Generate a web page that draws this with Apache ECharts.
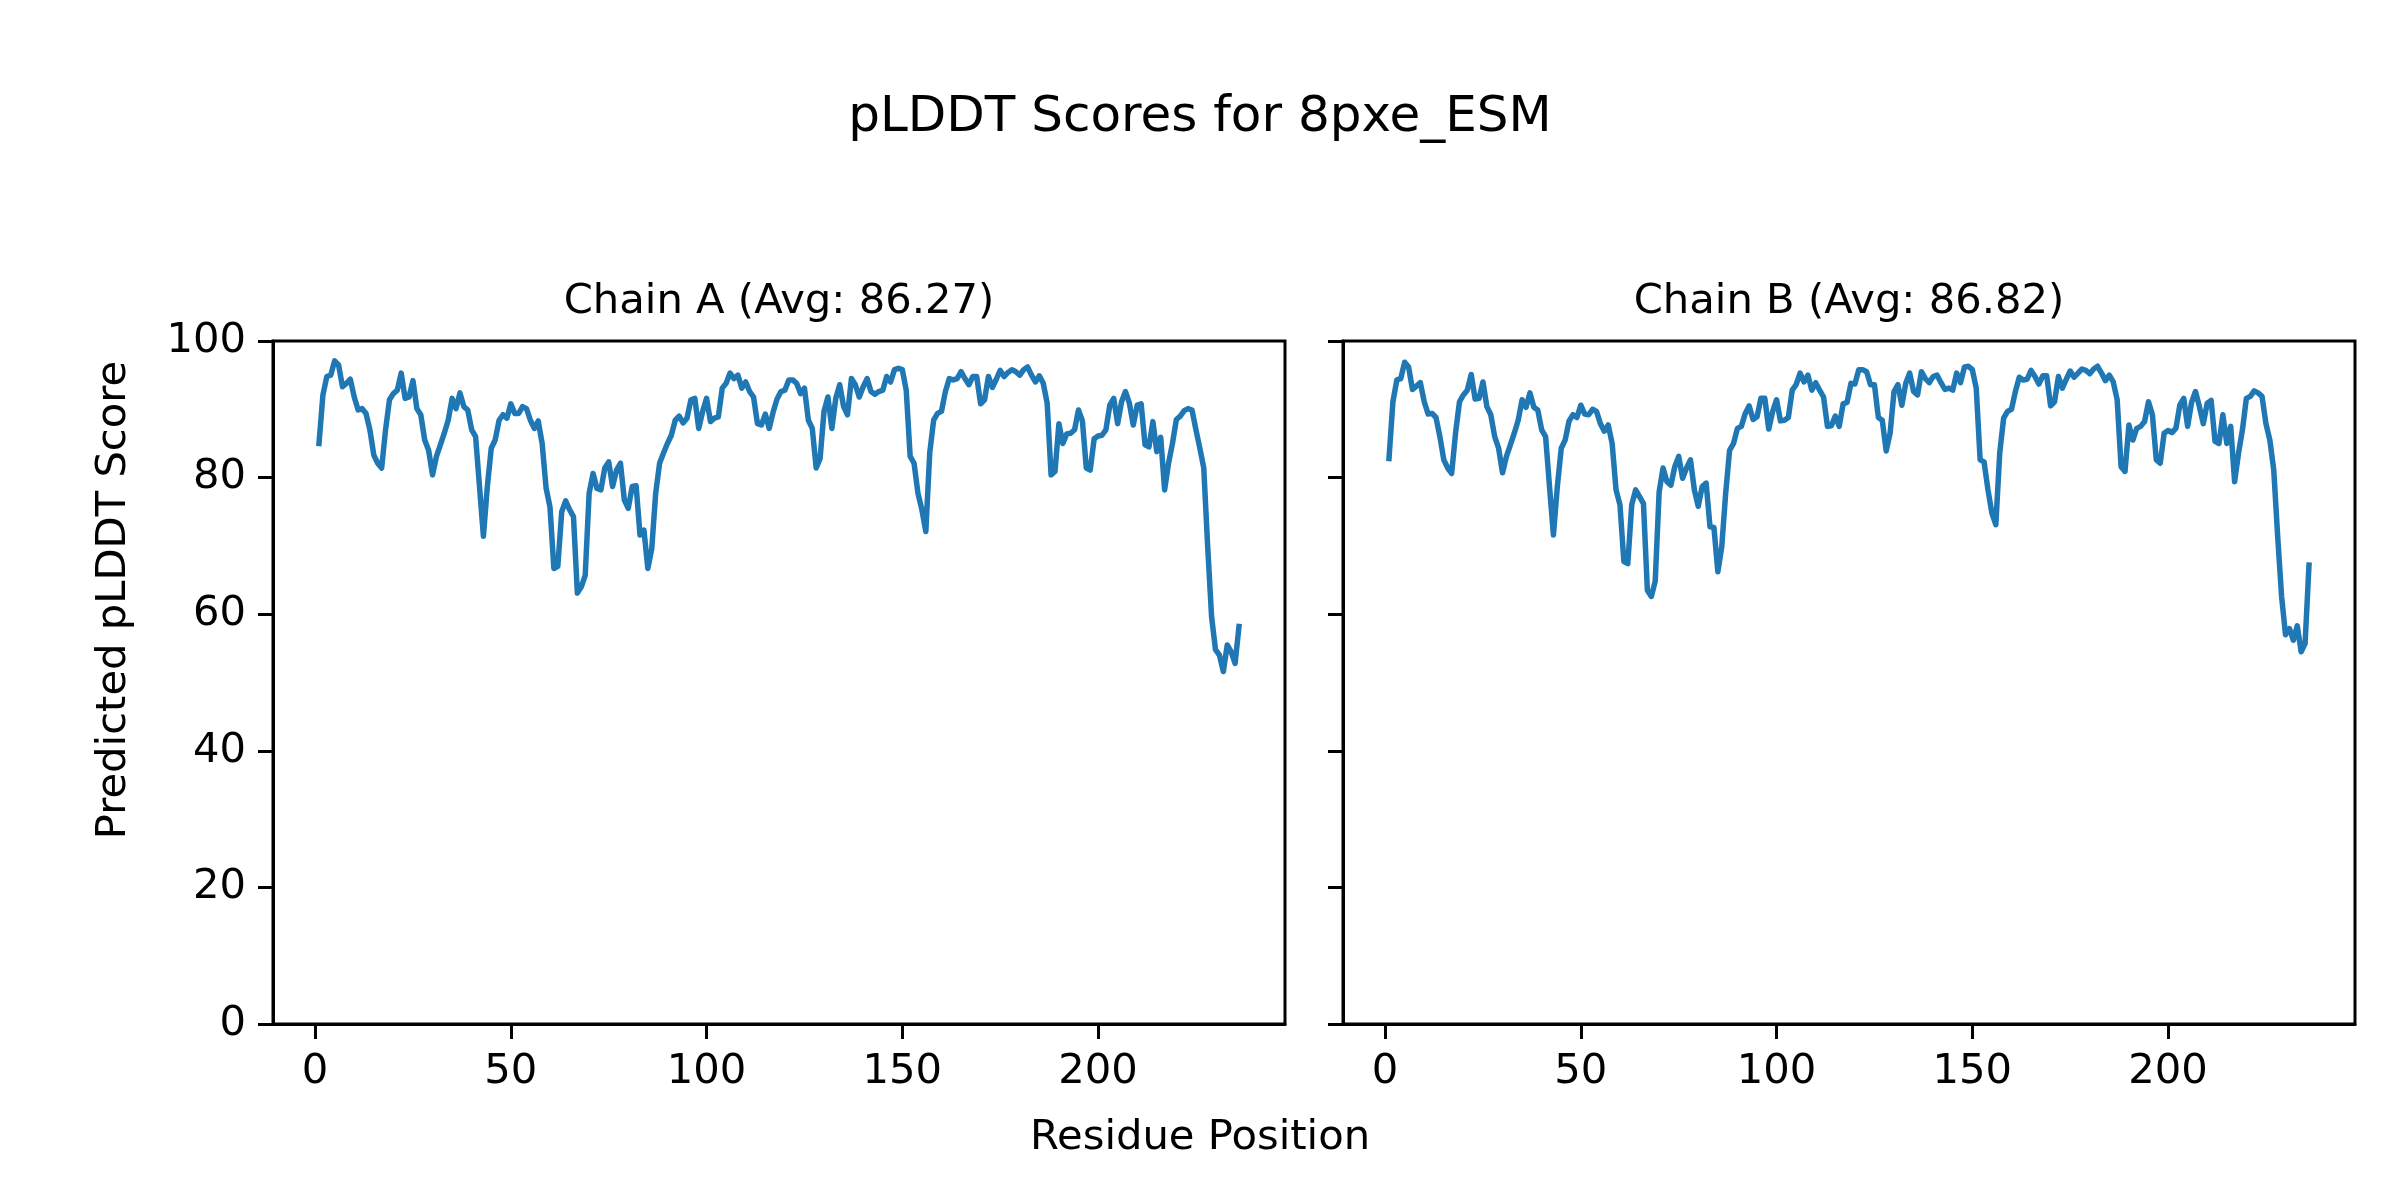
<!DOCTYPE html>
<html>
<head>
<meta charset="utf-8">
<script src="https://cdn.jsdelivr.net/npm/echarts@6/dist/echarts.min.js"></script>
<style>
html,body{margin:0;padding:0;background:#fff;}
#chart{width:2400px;height:1200px;}
</style>
</head>
<body>
<div id="chart"></div>
<script>
const mainTitle = 'pLDDT Scores for 8pxe_ESM';
const chainTitles = ['Chain A (Avg: 86.27)', 'Chain B (Avg: 86.82)'];
const xLabel = 'Residue Position';
const yLabel = 'Predicted pLDDT Score';
const xTicks = [0, 50, 100, 150, 200];
const yTicks = [0, 20, 40, 60, 80, 100];

const chainA = [
85.0, 92.1, 94.8, 95.0, 97.1, 96.5, 93.3, 93.8, 94.4, 91.8,
89.9, 90.1, 89.4, 87.0, 83.3, 82.1, 81.4, 87.0, 91.4, 92.3,
92.8, 95.3, 91.6, 91.8, 94.2, 90.1, 89.2, 85.5, 84.0, 80.4,
83.1, 84.8, 86.5, 88.4, 91.6, 90.1, 92.4, 90.4, 89.9, 87.0,
86.0, 78.7, 71.4, 78.7, 84.3, 85.5, 88.4, 89.2, 88.7, 90.8,
89.4, 89.4, 90.4, 90.1, 88.4, 87.2, 88.3, 85.0, 78.5, 75.7,
66.7, 67.0, 75.0, 76.6, 75.3, 74.3, 63.1, 64.0, 65.7, 77.7,
80.6, 78.4, 78.2, 81.4, 82.3, 78.7, 81.1, 82.1, 76.7, 75.5,
78.7, 78.8, 71.6, 72.3, 66.7, 69.6, 77.7, 82.1, 83.6, 85.0,
86.2, 88.4, 89.0, 88.0, 88.7, 91.4, 91.6, 87.2, 89.7, 91.6,
88.2, 88.7, 88.9, 93.1, 93.8, 95.3, 94.5, 95.0, 93.1, 94.0,
92.6, 91.8, 87.9, 87.7, 89.3, 87.2, 89.6, 91.5, 92.6, 92.8,
94.3, 94.3, 93.8, 92.3, 93.1, 88.4, 87.2, 81.4, 82.8, 89.7,
91.8, 87.2, 91.6, 93.6, 90.4, 89.2, 94.5, 93.6, 91.8, 93.3,
94.5, 92.6, 92.2, 92.6, 92.8, 94.8, 94.0, 95.8, 96.0, 95.8,
92.8, 83.1, 82.1, 77.7, 75.3, 72.1, 83.6, 88.4, 89.4, 89.7,
92.6, 94.5, 94.3, 94.5, 95.5, 94.5, 93.6, 94.8, 94.8, 90.8,
91.4, 94.8, 93.2, 94.4, 95.7, 94.8, 95.4, 95.8, 95.5, 95.0,
95.8, 96.2, 95.0, 94.0, 94.9, 93.8, 90.9, 80.4, 80.9, 87.9,
85.0, 86.4, 86.5, 87.0, 89.9, 88.3, 81.4, 81.1, 85.7, 86.1,
86.2, 87.0, 90.6, 91.6, 87.9, 91.1, 92.6, 90.9, 87.7, 90.6,
90.8, 84.8, 84.5, 88.2, 83.8, 85.9, 78.2, 82.1, 85.0, 88.5,
89.0, 89.8, 90.1, 89.9, 87.0, 84.3, 81.4, 69.9, 59.6, 54.8,
54.0, 51.6, 55.5, 54.5, 52.8, 58.2
];

const chainB = [
82.8, 91.1, 94.3, 94.5, 96.9, 96.2, 92.9, 93.4, 93.9, 91.1,
89.3, 89.4, 88.8, 86.0, 82.6, 81.4, 80.6, 86.5, 91.1, 92.1,
92.8, 95.1, 91.5, 91.6, 94.0, 90.4, 89.2, 86.0, 84.3, 80.7,
83.1, 84.8, 86.5, 88.4, 91.4, 90.3, 92.4, 90.3, 89.9, 87.0,
86.0, 78.7, 71.6, 78.7, 84.3, 85.5, 88.3, 89.2, 88.8, 90.6,
89.3, 89.2, 90.0, 89.7, 87.9, 86.8, 87.7, 85.0, 78.2, 76.0,
67.7, 67.4, 76.0, 78.2, 77.2, 76.2, 63.5, 62.6, 64.8, 77.9,
81.4, 79.4, 78.9, 81.6, 83.1, 79.9, 81.4, 82.6, 78.2, 75.8,
78.7, 79.2, 72.8, 72.7, 66.2, 69.9, 77.7, 84.0, 85.0, 87.2,
87.5, 89.4, 90.5, 88.5, 88.9, 91.6, 91.6, 87.1, 89.7, 91.4,
88.3, 88.4, 88.8, 92.8, 93.6, 95.3, 94.0, 95.0, 92.8, 93.9,
92.8, 91.8, 87.5, 87.6, 89.0, 87.5, 90.8, 91.0, 93.8, 93.7,
95.8, 95.8, 95.5, 93.6, 93.6, 88.8, 88.4, 83.9, 86.5, 92.6,
93.6, 90.6, 93.8, 95.3, 92.6, 92.1, 95.5, 94.5, 93.9, 94.8,
95.0, 93.9, 92.9, 93.1, 92.8, 95.3, 93.9, 96.2, 96.3, 95.8,
93.1, 82.6, 82.3, 78.2, 74.8, 73.1, 83.6, 88.7, 89.7, 90.0,
92.6, 94.7, 94.3, 94.4, 95.7, 94.8, 93.7, 94.9, 94.9, 90.5,
91.1, 94.8, 93.1, 94.4, 95.6, 94.7, 95.3, 95.9, 95.7, 95.2,
95.9, 96.3, 95.3, 94.2, 95.0, 94.0, 91.4, 81.6, 80.9, 87.7,
85.5, 87.2, 87.5, 88.2, 91.1, 89.2, 82.6, 82.1, 86.5, 86.9,
86.6, 87.2, 90.6, 91.6, 87.5, 91.0, 92.6, 90.4, 87.9, 90.9,
91.3, 85.3, 85.0, 89.2, 85.0, 87.5, 79.4, 83.6, 87.0, 91.6,
91.9, 92.7, 92.4, 91.9, 87.9, 85.5, 81.1, 71.4, 62.6, 57.0,
57.9, 56.2, 58.3, 54.5, 55.7, 67.2
];

const FONT = '"DejaVu Sans", "Liberation Sans", sans-serif';
const TICK_LEN = 15, TICK_W = 3;
const toPairs = arr => arr.map((v, i) => [i + 1, v]);
const n = chainA.length;
const pad = (n - 1) * 0.05;
const xMin = 1 - pad, xMax = n + pad;

const grids = [
  {left: 273, top: 341, width: 1012, height: 683},
  {left: 1343, top: 341, width: 1012, height: 683}
].map(g => Object.assign(g, {show: true, borderColor: '#000', borderWidth: 3, backgroundColor: 'transparent', containLabel: false}));

function xAxis(idx) {
  return {
    type: 'value', gridIndex: idx, min: xMin, max: xMax, position: 'bottom',
    axisLine: {show: true, onZero: false, lineStyle: {color: '#000', width: 3}},
    splitLine: {show: false},
    axisTick: {show: true, inside: false, length: TICK_LEN, lineStyle: {color: '#000', width: TICK_W}, customValues: xTicks},
    axisLabel: {show: true, margin: 27, color: '#000', fontSize: 41.7, fontFamily: FONT, customValues: xTicks}
  };
}
function yAxis(idx, showLabel) {
  return {
    type: 'value', gridIndex: idx, min: 0, max: 100, interval: 20, position: 'left',
    axisLine: {show: true, onZero: false, lineStyle: {color: '#000', width: 3}},
    splitLine: {show: false},
    axisTick: {show: true, inside: false, length: TICK_LEN, lineStyle: {color: '#000', width: TICK_W}},
    axisLabel: {show: showLabel, margin: 27, color: '#000', fontSize: 41.7, fontFamily: FONT,
      formatter: v => yTicks.includes(v) ? String(v) : ''}
  };
}

const chart = echarts.init(document.getElementById('chart'), null, {renderer: 'canvas'});
chart.setOption({
  animation: false,
  backgroundColor: '#fff',
  grid: grids,
  xAxis: [xAxis(0), xAxis(1)],
  yAxis: [yAxis(0, true), yAxis(1, false)],
  series: [chainA, chainB].map((arr, i) => ({
    type: 'line', xAxisIndex: i, yAxisIndex: i,
    data: toPairs(arr), showSymbol: false, symbol: 'none',
    lineStyle: {color: '#1f77b4', width: 5.5, join: 'round', cap: 'square'},
    z: 1
  })),
  graphic: [
    {type: 'text', x: 1200, y: 118, style: {text: mainTitle, font: '50px ' + FONT, fill: '#000', align: 'center', verticalAlign: 'middle'}},
    {type: 'text', x: 779, y: 302, style: {text: chainTitles[0], font: '41.7px ' + FONT, fill: '#000', align: 'center', verticalAlign: 'middle'}},
    {type: 'text', x: 1849, y: 302, style: {text: chainTitles[1], font: '41.7px ' + FONT, fill: '#000', align: 'center', verticalAlign: 'middle'}},
    {type: 'text', x: 1200, y: 1138, style: {text: xLabel, font: '41.7px ' + FONT, fill: '#000', align: 'center', verticalAlign: 'middle'}},
    {type: 'text', x: 114, y: 600, rotation: Math.PI / 2, style: {text: yLabel, font: '41.7px ' + FONT, fill: '#000', align: 'center', verticalAlign: 'middle'}}
  ]
});
</script>
</body>
</html>
